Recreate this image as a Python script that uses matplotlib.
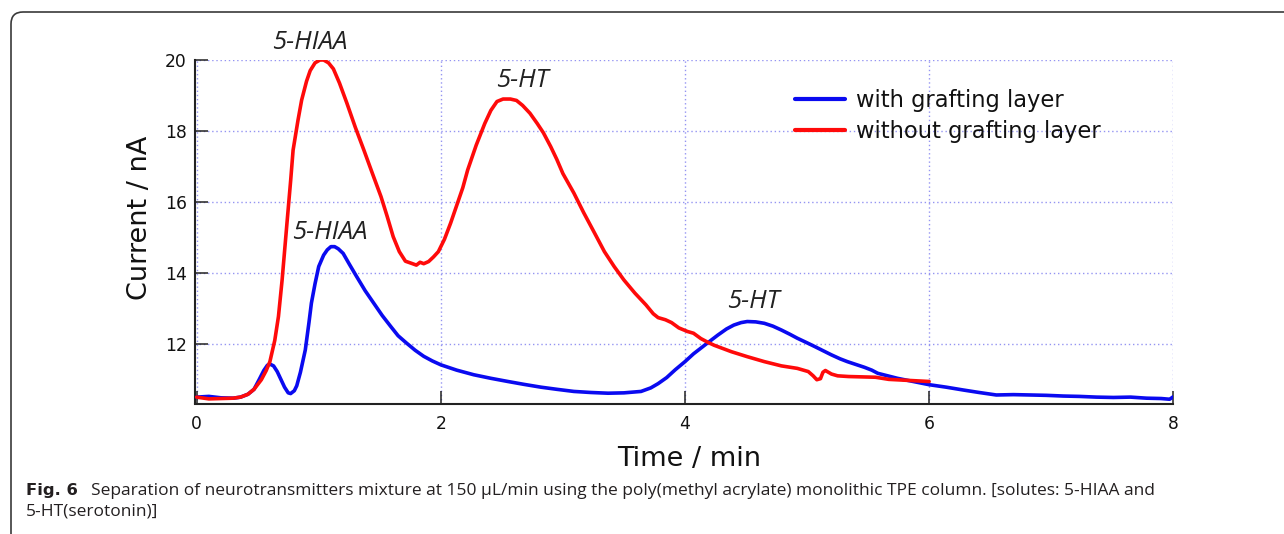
import matplotlib
matplotlib.use("Agg")
import matplotlib.pyplot as plt
from matplotlib.patches import FancyBboxPatch
from matplotlib.transforms import IdentityTransform

# ---------------- data ----------------
red_t = [0.00, 0.10, 0.20, 0.30, 0.36, 0.42, 0.47, 0.53, 0.57, 0.60, 0.64, 0.67, 0.70, 0.74,
         0.77, 0.79, 0.83, 0.86, 0.90, 0.93, 0.97, 1.01, 1.04, 1.08, 1.12, 1.17, 1.23, 1.30,
         1.37, 1.44, 1.51, 1.56, 1.61, 1.66, 1.71, 1.76, 1.80, 1.83, 1.86, 1.90, 1.94, 1.98,
         2.03, 2.08, 2.13, 2.18, 2.22, 2.29, 2.36, 2.41, 2.46, 2.51, 2.57, 2.62, 2.67, 2.73,
         2.79, 2.84, 2.90, 2.95, 3.00, 3.09, 3.17, 3.26, 3.34, 3.42, 3.50, 3.59, 3.68, 3.74,
         3.78, 3.84, 3.89, 3.95, 4.02, 4.07, 4.13, 4.19, 4.24, 4.38, 4.51, 4.65, 4.79, 4.92,
         5.01, 5.05, 5.08, 5.11, 5.13, 5.15, 5.20, 5.25, 5.34, 5.45, 5.56, 5.67, 5.78, 5.89, 6.00]
red_i = [10.50, 10.45, 10.46, 10.47, 10.50, 10.58, 10.72, 10.99, 11.25, 11.50, 12.10, 12.77, 13.80, 15.41,
         16.60, 17.46, 18.30, 18.87, 19.40, 19.70, 19.92, 20.00, 20.00, 19.92, 19.75, 19.35, 18.79, 18.10,
         17.46, 16.80, 16.15, 15.60, 15.02, 14.60, 14.33, 14.27, 14.22, 14.30, 14.26, 14.32, 14.45, 14.60,
         14.95, 15.40, 15.90, 16.40, 16.90, 17.60, 18.21, 18.58, 18.83, 18.90, 18.90, 18.86, 18.72, 18.50,
         18.21, 17.95, 17.56, 17.20, 16.80, 16.25, 15.70, 15.12, 14.60, 14.18, 13.80, 13.43, 13.10, 12.85,
         12.74, 12.68, 12.60, 12.45, 12.35, 12.30, 12.15, 12.04, 11.96, 11.78, 11.64, 11.50, 11.38, 11.31,
         11.22, 11.10, 10.99, 11.02, 11.20, 11.25, 11.15, 11.10, 11.08, 11.07, 11.06, 11.00, 10.98, 10.96, 10.94]

blue_t = [0.00, 0.10, 0.20, 0.30, 0.36, 0.42, 0.47, 0.51, 0.55, 0.58, 0.60, 0.63, 0.66, 0.69, 0.72,
          0.75, 0.77, 0.80, 0.82, 0.85, 0.89, 0.92, 0.94, 0.97, 1.00, 1.04, 1.07, 1.10, 1.13, 1.16,
          1.20, 1.25, 1.31, 1.38, 1.45, 1.52, 1.59, 1.65, 1.72, 1.79, 1.86, 1.93, 2.00, 2.13, 2.27,
          2.41, 2.55, 2.68, 2.82, 2.95, 3.09, 3.23, 3.37, 3.50, 3.64, 3.72, 3.78, 3.85, 3.92, 4.00,
          4.07, 4.13, 4.19, 4.27, 4.34, 4.40, 4.46, 4.51, 4.58, 4.65, 4.72, 4.79, 4.86, 4.92, 5.00,
          5.06, 5.13, 5.20, 5.27, 5.33, 5.40, 5.47, 5.53, 5.58, 5.66, 5.74, 5.87, 6.00, 6.14, 6.28,
          6.41, 6.55, 6.69, 6.83, 6.96, 7.10, 7.23, 7.37, 7.51, 7.65, 7.78, 7.90, 7.97, 8.00]
blue_i = [10.50, 10.52, 10.48, 10.47, 10.50, 10.58, 10.72, 10.98, 11.25, 11.40, 11.43, 11.38, 11.22, 11.00, 10.78,
          10.62, 10.60, 10.68, 10.82, 11.20, 11.83, 12.60, 13.15, 13.70, 14.18, 14.50, 14.65, 14.74, 14.74, 14.68,
          14.55, 14.25, 13.90, 13.50, 13.15, 12.80, 12.49, 12.23, 12.02, 11.82, 11.65, 11.52, 11.41, 11.26, 11.13,
          11.03, 10.94, 10.86, 10.78, 10.72, 10.66, 10.63, 10.61, 10.62, 10.66, 10.76, 10.88, 11.05, 11.27, 11.50,
          11.72, 11.88, 12.04, 12.25, 12.42, 12.53, 12.60, 12.63, 12.62, 12.58, 12.50, 12.39, 12.27, 12.16, 12.03,
          11.93, 11.81, 11.69, 11.58, 11.50, 11.42, 11.34, 11.26, 11.17, 11.10, 11.03, 10.94, 10.85, 10.78, 10.70,
          10.63, 10.56, 10.57, 10.56, 10.55, 10.53, 10.52, 10.50, 10.49, 10.50, 10.47, 10.46, 10.44, 10.51]

series_labels = ["with grafting layer", "without grafting layer"]
x_ticks = [0, 2, 4, 6, 8]
y_ticks = [12, 14, 16, 18, 20]
peak_labels = ["5-HIAA", "5-HT", "5-HIAA", "5-HT"]
peak_pos = [(0.93, 20.48), (2.67, 19.41), (1.09, 15.14), (4.56, 13.20)]

caption_bold = "Fig. 6"
caption_line1 = ("Separation of neurotransmitters mixture at 150 \u00b5L/min using the poly(methyl acrylate) "
                 "monolithic TPE column. [solutes: 5-HIAA and")
caption_line2 = "5-HT(serotonin)]"

# ---------------- figure ----------------
W, H = 1284, 534
fig = plt.figure(figsize=(W / 100, H / 100), dpi=100)
fig.patch.set_facecolor("white")

frame = FancyBboxPatch((11, -40), 1320, H - 12 + 40,
                       boxstyle="round,pad=0,rounding_size=12",
                       transform=IdentityTransform(), fill=False,
                       ec="#3a3a3a", lw=1.2)
fig.add_artist(frame)

ax = fig.add_axes([195 / W, 1 - 403.5 / H, (1173.3 - 195) / W, (403.5 - 60) / H])
ax.set_xlim(-0.0135, 8.0)
ax.set_ylim(10.32, 20.0)

ax.plot(blue_t, blue_i, color="#0a0af0", lw=2.6, label=series_labels[0], zorder=3,
        solid_joinstyle="round", solid_capstyle="round")
ax.plot(red_t, red_i, color="#ff0a0a", lw=2.6, label=series_labels[1], zorder=4,
        solid_joinstyle="round", solid_capstyle="round")

ax.set_xticks(x_ticks)
ax.set_yticks(y_ticks)
ax.grid(True, color="#9494f2", linestyle=(0, (1, 2)), linewidth=1.0, zorder=0)
for s in ("top", "right"):
    ax.spines[s].set_visible(False)
for s in ("left", "bottom"):
    ax.spines[s].set_linewidth(1.5)
    ax.spines[s].set_color("#222222")
ax.tick_params(axis="both", direction="in", length=9.5, width=1.1, color="#222222",
               labelsize=12.3, labelcolor="#111111")
ax.tick_params(axis="x", pad=8)
ax.tick_params(axis="y", pad=6)

ax.set_xlabel("Time / min", fontsize=19.5, color="#111111", labelpad=9.5)
ax.set_ylabel("Current / nA", fontsize=19.5, color="#111111", labelpad=8.5)
ax.xaxis.label.set_x(0.5055)
ax.yaxis.label.set_y(0.54)

for lab, (px, py) in zip(peak_labels, peak_pos):
    ax.text(px, py, lab, ha="center", va="center", fontsize=18.5, style="italic",
            family="Open Sans", color="#222222", zorder=5)

leg = ax.legend(loc="upper left", bbox_to_anchor=(795 / W, 1 - 89 / H),
                bbox_transform=fig.transFigure, frameon=False, fontsize=16.3,
                handlelength=2.2, handletextpad=0.5, labelspacing=0.36,
                borderpad=0, borderaxespad=0)
for t in leg.get_texts():
    t.set_color("#111111")
for ln in leg.get_lines():
    ln.set_linewidth(3.0)

cap_y1 = 1 - 491 / H
cap_y2 = 1 - 511 / H
fig.text(26 / W, cap_y1, caption_bold, fontsize=11.8, family="DejaVu Sans", weight="bold",
         color="#231f20", va="center", ha="left")
fig.text(91 / W, cap_y1, caption_line1, fontsize=12.5, family="Open Sans",
         color="#231f20", va="center", ha="left")
fig.text(26 / W, cap_y2, caption_line2, fontsize=12.5, family="Open Sans",
         color="#231f20", va="center", ha="left")

fig.savefig("out.png", dpi=100)
